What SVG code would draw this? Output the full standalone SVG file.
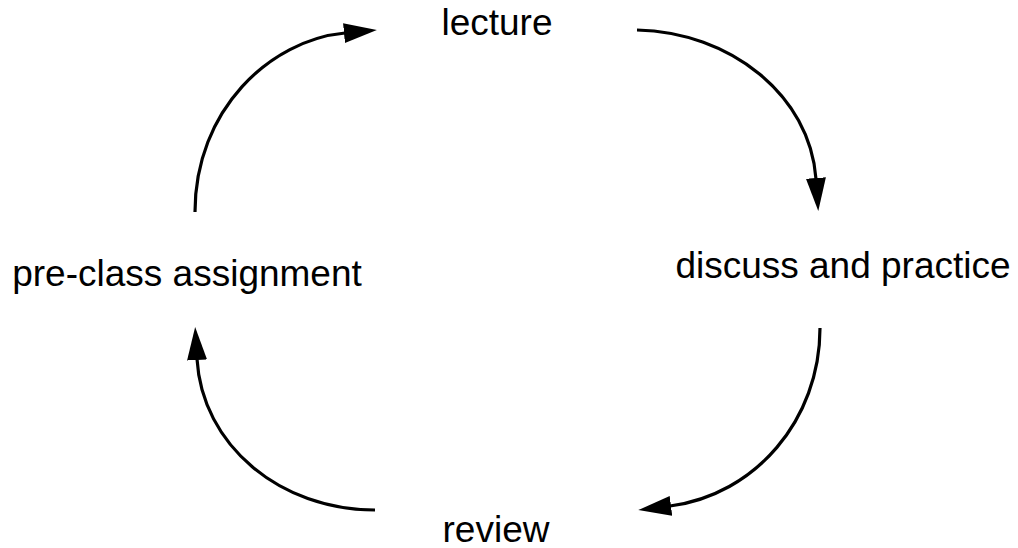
<svg xmlns="http://www.w3.org/2000/svg" width="1018" height="548" viewBox="0 0 1018 548">
<style>
.lbl{font-family:"Liberation Sans",Arial,sans-serif;font-size:37px;fill:#000;text-anchor:middle}
.arc{fill:none;stroke:#000;stroke-width:3.2;stroke-linecap:butt}
</style>
<defs>
<marker id="ah" markerUnits="userSpaceOnUse" markerWidth="34" markerHeight="24" viewBox="0 0 34 24" refX="1" refY="12" orient="auto">
<path d="M0,2 L33,12 L0,22 z" fill="#000"/>
</marker>
</defs>
<g id="connectors">
<path class="arc" d="M195,212 C195,110 270,40 345,33" marker-end="url(#ah)"/>
<path class="arc" d="M637,30 C730,32 810,95 816,179" marker-end="url(#ah)"/>
<path class="arc" d="M820,328 C820,420 755,495 670,506" marker-end="url(#ah)"/>
<path class="arc" d="M375,510 C280,510 202,445 197,359" marker-end="url(#ah)"/>
</g>
<g id="lecture"><text class="lbl" x="497" y="35">lecture</text></g>
<g id="discuss"><text class="lbl" x="843" y="278">discuss and practice</text></g>
<g id="review"><text class="lbl" x="496" y="542">review</text></g>
<g id="preclass"><text class="lbl" x="187" y="286">pre-class assignment</text></g>
</svg>
